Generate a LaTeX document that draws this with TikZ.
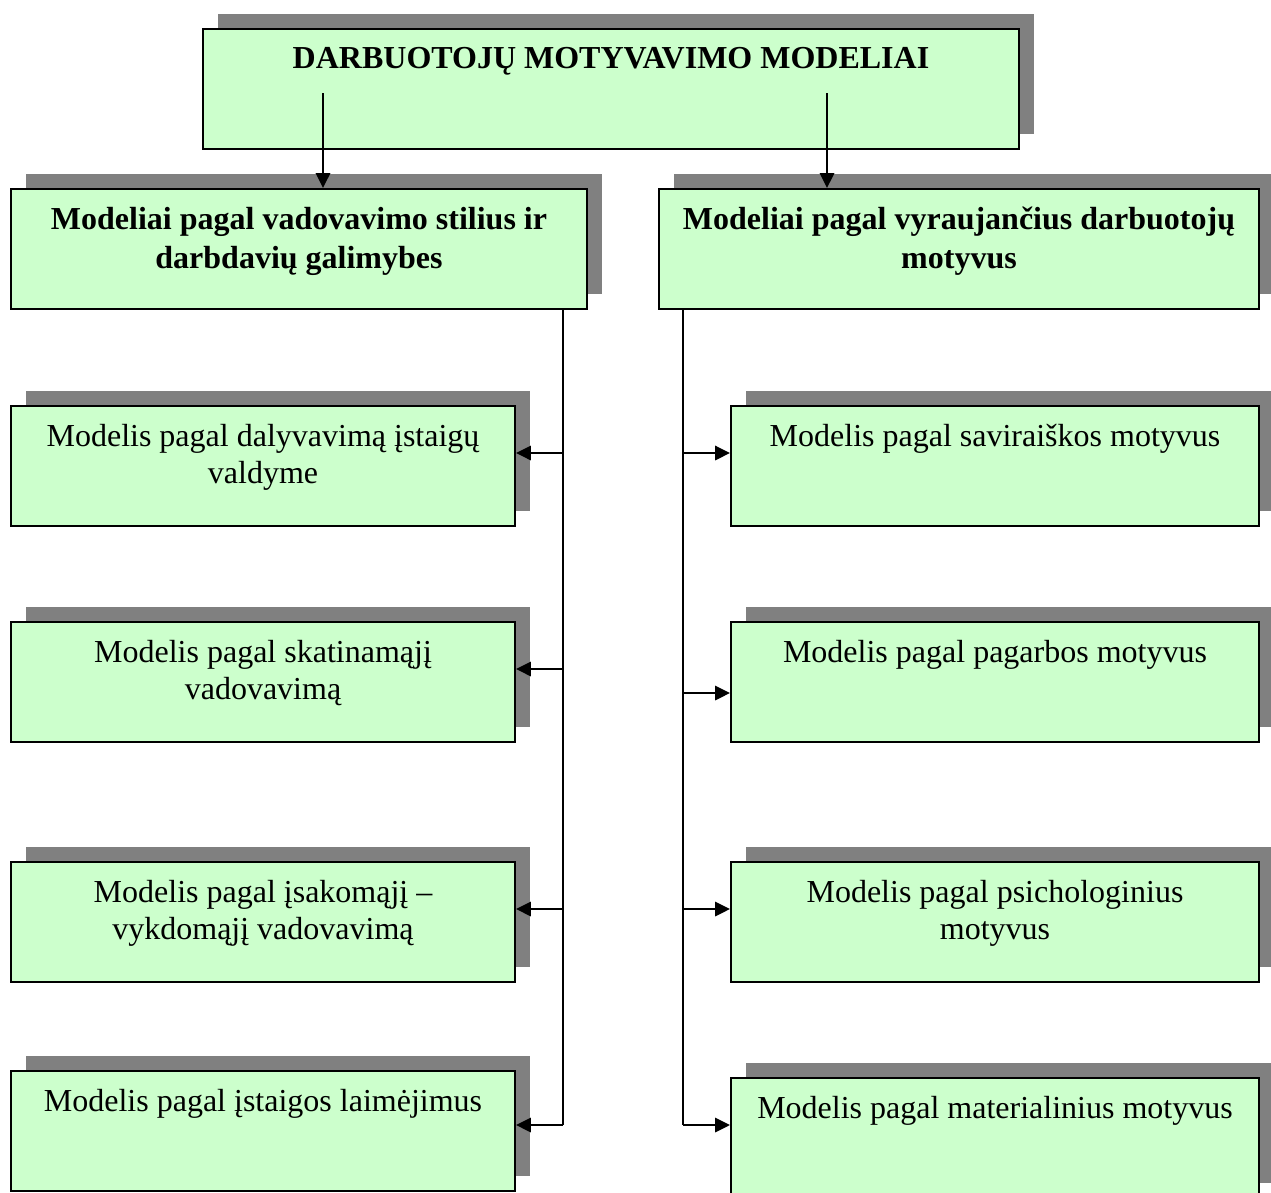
\documentclass[tikz,border=0pt]{standalone}
\usepackage{fontspec}
\setmainfont{Liberation Serif}
\usetikzlibrary{positioning, arrows.meta, shadows}
\definecolor{boxgreen}{RGB}{204,255,204}
\definecolor{shadowgray}{RGB}{128,128,128}

\begin{document}
\begin{tikzpicture}[x=0.375pt, y=-0.375pt, >={Triangle[length=5.6pt, width=5.4pt]},
    box/.style={draw, line width=0.75pt, fill=boxgreen, anchor=north west,
      minimum height=45pt, inner sep=0pt,
      drop shadow={shadow xshift=5.7pt, shadow yshift=5.7pt, fill=shadowgray, opacity=1}},
    boxtext/.style={anchor=north, align=center, inner sep=0pt,
      font=\fontsize{12}{13.9}\selectfont},
    headtext/.style={boxtext, font=\fontsize{12}{14.6}\selectfont\bfseries},
    conn/.style={line width=0.75pt}]
  \useasboundingbox (0,0) rectangle (1271,1192);
  % Pagrindinis blokas
  \node[box, minimum width=306pt] (top) at (202,28) {};
  \node[headtext] (ttop) at ([yshift=-7pt]top.north) {DARBUOTOJŲ MOTYVAVIMO MODELIAI};
  % Antras lygis
  \node[box, minimum width=216pt] (L) at (10,188) {};
  \node[headtext] (tL) at ([yshift=-7pt]L.north) {Modeliai pagal vadovavimo stilius ir\\darbdavių galimybes};
  \node[box, minimum width=225pt] (R) at (658,188) {};
  \node[headtext] (tR) at ([yshift=-7pt]R.north) {Modeliai pagal vyraujančius darbuotojų\\motyvus};
  % Kairė šaka
  \node[box, minimum width=189pt] (l1) at (10,405) {};
  \node[boxtext] (tl1) at ([yshift=-7pt]l1.north) {Modelis pagal dalyvavimą įstaigų\\valdyme};
  \node[box, minimum width=189pt] (l2) at (10,621) {};
  \node[boxtext] (tl2) at ([yshift=-7pt]l2.north) {Modelis pagal skatinamąjį\\vadovavimą};
  \node[box, minimum width=189pt] (l3) at (10,861) {};
  \node[boxtext] (tl3) at ([yshift=-7pt]l3.north) {Modelis pagal įsakomąjį –\\vykdomąjį vadovavimą};
  \node[box, minimum width=189pt] (l4) at (10,1070) {};
  \node[boxtext] (tl4) at ([yshift=-7pt]l4.north) {Modelis pagal įstaigos laimėjimus};
  % Dešinė šaka
  \node[box, minimum width=198pt] (r1) at (730,405) {};
  \node[boxtext] (tr1) at ([yshift=-7pt]r1.north) {Modelis pagal saviraiškos motyvus};
  \node[box, minimum width=198pt] (r2) at (730,621) {};
  \node[boxtext] (tr2) at ([yshift=-7pt]r2.north) {Modelis pagal pagarbos motyvus};
  \node[box, minimum width=198pt] (r3) at (730,861) {};
  \node[boxtext] (tr3) at ([yshift=-7pt]r3.north) {Modelis pagal psichologinius\\motyvus};
  \node[box, minimum width=198pt] (r4) at (730,1077) {};
  \node[boxtext] (tr4) at ([yshift=-7pt]r4.north) {Modelis pagal materialinius motyvus};
  % Jungtys
  \coordinate (a1) at (323,93);
  \coordinate (a2) at (827,93);
  \draw[conn, ->] (a1) -- (a1 |- L.north);
  \draw[conn, ->] (a2) -- (a2 |- R.north);
  \coordinate (lj1) at (563,453);
  \coordinate (lj2) at (563,669);
  \coordinate (lj3) at (563,909);
  \coordinate (lj4) at (563,1125);
  \draw[conn] (L.south -| lj1) -- (lj4);
  \foreach \i in {1,...,4}
    \draw[conn, ->] (lj\i) -- (lj\i -| l\i.east);
  \coordinate (rj1) at (683,453);
  \coordinate (rj2) at (683,693);
  \coordinate (rj3) at (683,909);
  \coordinate (rj4) at (683,1125);
  \draw[conn] (R.south -| rj1) -- (rj4);
  \foreach \i in {1,...,4}
    \draw[conn, ->] (rj\i) -- (rj\i -| r\i.west);
\end{tikzpicture}
\end{document}
